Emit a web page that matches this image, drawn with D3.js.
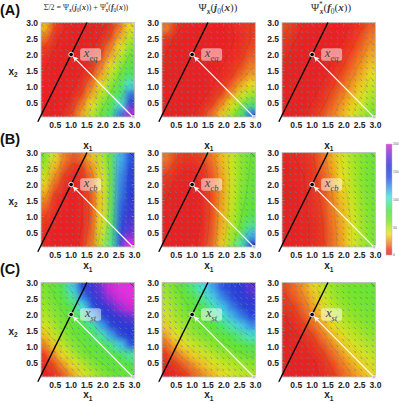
<!DOCTYPE html>
<html><head><meta charset="utf-8">
<script src="https://cdn.jsdelivr.net/npm/d3@7"></script>
<style>body{margin:0;background:#fff}svg{display:block}</style>
</head><body>
<svg id="c" width="399" height="404"></svg>
<script>
// ---------- data ----------
const cellCenters = [0.15,0.45,0.75,1.05,1.35,1.65,1.95,2.25,2.55,2.85];
const rowCenters = [2.85,2.55,2.25,1.95,1.65,1.35,1.05,0.75,0.45,0.15];
const tickValues = [0.5,1.0,1.5,2.0,2.5,3.0];
const tickLabels = ["0.5","1.0","1.5","2.0","2.5","3.0"];
const arrowGrid = [0.10,0.29,0.47,0.66,0.85,1.03,1.22,1.41,1.59,1.78,1.97,2.15,2.34,2.53,2.71,2.90];
const legendTicks = [0,50,100,150,200];
const contourLevels = [3,10,22,40,65,100,150];
const rowLetters = ["(A)","(B)","(C)"];
const pointSubs = ["eq","cb","st"];
const fixedPoint = [1.0,2.0];
const startPoint = [2.95,0.05];

// Row A: equilibrium
const A1 = [
 [32,11,4,1,0,1,2,6,19,38],
 [19,6,2,1,0,1,4,11,28,49],
 [11,4,1,0,1,2,6,19,38,58],
 [6,2,1,0,1,4,11,28,49,67],
 [4,1,0,1,2,6,19,38,58,75],
 [2,1,0,1,4,11,28,49,67,86],
 [1,0,1,2,6,19,38,58,75,102],
 [1,0,1,4,11,28,49,67,86,134],
 [0,1,2,6,19,38,58,75,102,165],
 [0,1,4,11,28,49,67,86,134,192]];
const A2 = [
 [22,6,2,0,0,0,1,3,6,10],
 [10,3,1,0,0,0,1,2,5,10],
 [5,1,0,0,0,0,1,3,6,12],
 [3,1,0,0,0,1,2,4,8,15],
 [2,0,0,0,0,1,3,6,12,20],
 [1,0,0,0,1,2,4,9,17,27],
 [0,0,0,1,1,3,7,15,28,38],
 [0,0,0,1,2,5,12,25,42,55],
 [0,0,1,1,4,10,22,40,62,85],
 [0,0,1,3,8,18,34,55,80,135]];
const A3 = [
 [13,6,2,1,0,0,1,4,9,16],
 [9,4,1,0,0,1,2,6,13,20],
 [6,2,1,0,0,1,4,9,16,25],
 [4,1,0,0,1,2,6,13,20,29],
 [2,1,0,0,1,4,9,16,25,34],
 [1,0,0,1,2,6,13,20,29,39],
 [1,0,0,1,4,9,16,25,34,45],
 [0,0,1,2,6,13,20,29,39,51],
 [0,0,1,4,9,16,25,34,45,56],
 [0,1,2,6,13,20,29,39,51,61]];
// Row B: current-balanced
const B1 = [
 [62,40,22,14,18,32,50,72,115,140],
 [55,32,16,8,10,24,45,70,120,150],
 [45,24,10,4,6,18,40,68,125,155],
 [35,16,6,2,4,16,38,68,128,158],
 [26,10,3,1,3,14,36,70,130,160],
 [18,6,2,0,3,13,36,72,135,162],
 [12,4,1,0,3,13,37,75,138,165],
 [8,2,0,0,3,14,40,80,142,170],
 [5,1,0,0,4,16,45,85,145,180],
 [3,1,0,0,5,19,50,90,150,205]];
const B2 = [
 [20,12,8,8,12,20,32,45,58,65],
 [15,8,4,4,8,17,30,45,58,66],
 [10,4,2,2,6,15,28,44,58,67],
 [6,2,1,1,5,14,27,44,59,68],
 [4,1,0,1,4,13,27,45,60,70],
 [2,0,0,1,4,13,28,46,62,72],
 [1,0,0,1,4,13,29,48,64,78],
 [0,0,0,1,4,14,30,50,68,90],
 [0,0,0,1,5,15,32,53,78,115],
 [0,0,0,2,6,17,35,58,95,160]];
const B3 = [
 [2,3,5,10,18,30,42,52,58,62],
 [1,2,4,9,17,28,40,51,58,62],
 [1,2,3,8,15,26,38,50,58,62],
 [0,1,3,7,14,24,36,48,57,62],
 [0,1,2,6,13,22,34,46,56,61],
 [0,1,2,5,12,21,32,44,55,61],
 [0,1,2,5,11,20,30,42,54,60],
 [0,1,2,4,10,19,29,41,53,60],
 [0,1,2,4,10,18,28,40,52,60],
 [0,1,2,4,9,18,28,40,52,60]];
// Row C: stationary
const C1 = [
 [60,68,82,110,150,165,180,200,210,212],
 [58,64,75,95,130,155,170,190,205,210],
 [55,60,68,82,105,140,160,170,190,200],
 [50,56,63,72,88,115,150,160,165,175],
 [42,52,60,66,76,92,120,150,158,160],
 [32,46,56,63,70,80,95,120,150,158],
 [20,34,48,58,64,70,78,88,110,140],
 [10,22,38,50,60,66,70,75,82,95],
 [4,12,25,38,50,58,64,68,72,78],
 [2,6,15,28,40,50,58,63,66,70]];
const C2 = [
 [55,62,75,90,105,120,140,150,160,175],
 [52,58,66,78,95,110,128,145,155,165],
 [48,55,62,70,82,98,112,130,148,155],
 [42,52,58,64,72,85,100,115,130,148],
 [35,46,55,60,66,74,86,98,110,125],
 [26,38,48,55,60,65,72,82,92,102],
 [16,28,38,46,52,57,62,68,75,82],
 [8,17,27,36,43,49,54,58,63,68],
 [3,8,16,25,33,40,46,50,54,58],
 [1,3,8,16,24,31,38,43,48,52]];
const C3 = [
 [12,18,26,36,48,56,60,62,63,64],
 [9,15,22,32,44,53,58,61,62,63],
 [6,11,18,28,39,49,55,59,61,62],
 [3,7,14,23,34,44,51,56,59,61],
 [2,4,9,17,27,37,46,52,56,59],
 [1,2,5,11,20,30,39,47,52,56],
 [0,1,3,7,14,23,32,40,47,52],
 [0,1,2,4,9,17,26,34,41,47],
 [0,0,1,2,6,12,20,28,35,42],
 [0,0,1,2,4,9,16,23,30,36]];
const panelData = [[A1,A2,A3],[B1,B2,B3],[C1,C2,C3]];

// ---------- colour ----------
const colStops  = [0,10,20,30,38,50,62,80,95,105,120,140,160,180,200,215];
const colColors = ["#e62222","#ea3a1e","#f07a22","#f0b022","#e8e024","#b4e428","#70e432","#50e244","#4ce6a0","#48e0e0","#3ca0ec","#2a50e0","#2a38d4","#7030d8","#d828d8","#e830e0"];
const color = d3.scaleLinear().domain(colStops).range(colColors).clamp(true);

// ---------- layout ----------
const svg = d3.select("#c");
const colLeft = [41,162,282], plotW = 93.5;
const rowTop = [22.5,152.5,282.5], plotH = 94.5;
const sans = "'Liberation Sans',Arial,sans-serif";
const serif = "'Liberation Serif','DejaVu Serif',serif";

const defs = svg.append("defs");
defs.append("filter").attr("id","blur").attr("x","-20%").attr("y","-20%").attr("width","140%").attr("height","140%")
  .append("feGaussianBlur").attr("stdDeviation",3.2);
const mk = defs.append("marker").attr("id","ah").attr("viewBox","0 0 10 10").attr("refX",9).attr("refY",5)
  .attr("markerWidth",5.5).attr("markerHeight",5.5).attr("orient","auto-start-reverse").attr("markerUnits","userSpaceOnUse");
mk.append("path").attr("d","M0,0L10,5L0,10L2.5,5z").attr("fill","#fff");

function mathText(g, x, y, segs, size, anchor, fill) {
  const t = g.append("text").attr("x",x).attr("y",y).attr("font-family",serif)
    .attr("font-size",size).attr("text-anchor",anchor||"middle").attr("fill",fill||"#333");
  let cur = 0;
  segs.forEach(s => {
    const sp = t.append("tspan").text(s.t);
    const target = s.sub ? size*0.3 : (s.sup ? -size*0.4 : 0);
    if (target - cur !== 0) sp.attr("dy", target - cur);
    cur = target;
    if (s.sub || s.sup) sp.attr("font-size", size*0.68);
    if (s.b) sp.attr("font-weight","bold");
    if (s.i) sp.attr("font-style","italic");
    if (s.dx) sp.attr("dx", s.dx);
  });
  return t;
}

rowTop.forEach((top, r) => {
  colLeft.forEach((left, c) => {
    const data = panelData[r][c];
    const xs = d3.scaleLinear().domain([0.05,3]).range([left, left+plotW]);
    const ys = d3.scaleLinear().domain([0.05,3]).range([top+plotH, top]);
    const g = svg.append("g");
    const cid = `clip${r}${c}`;
    defs.append("clipPath").attr("id",cid).append("rect")
      .attr("x",left).attr("y",top).attr("width",plotW).attr("height",plotH);
    const clipG = g.append("g").attr("clip-path",`url(#${cid})`);
    const hg = clipG.append("g").attr("filter","url(#blur)");
    const half = 0.15, ext = 10;
    data.forEach((row, j) => row.forEach((v, i) => {
      let x0 = xs(cellCenters[i]-half), x1 = xs(cellCenters[i]+half);
      let y0 = ys(rowCenters[j]+half), y1 = ys(rowCenters[j]-half);
      if (i===0) x0 -= ext; if (i===row.length-1) x1 += ext;
      if (j===0) y0 -= ext; if (j===data.length-1) y1 += ext;
      hg.append("rect").attr("x",x0).attr("y",y0).attr("width",x1-x0+0.6).attr("height",y1-y0+0.6)
        .attr("fill", color(v));
    }));
    // faint contour lines
    const flat = data.flat();
    const cont = d3.contours().size([10,10]).smooth(true).thresholds(contourLevels)(flat);
    const proj = d3.geoTransform({point: function(px, py) {
      this.stream.point(xs(px*0.3), ys(3 - py*0.3));
    }});
    clipG.append("g").selectAll("path").data(cont).join("path")
      .attr("d", d3.geoPath(proj)).attr("fill","none").attr("stroke","#000")
      .attr("stroke-opacity",0.16).attr("stroke-width",0.5);
    // quiver glyphs
    const qg = clipG.append("g").attr("stroke","#6c7ca8").attr("stroke-width",0.6).attr("fill","#6c7ca8").attr("opacity",0.85);
    arrowGrid.forEach(ax => arrowGrid.forEach(ay => {
      const px = xs(ax), py = ys(ay);
      qg.append("line").attr("x1",px-0.8).attr("y1",py-0.8).attr("x2",px+0.8).attr("y2",py+0.8);
      qg.append("circle").attr("cx",px+0.8).attr("cy",py+0.8).attr("r",0.55).attr("stroke","none");
    }));
    // frame
    g.append("rect").attr("x",left).attr("y",top).attr("width",plotW).attr("height",plotH)
      .attr("fill","none").attr("stroke","#c4c4c4").attr("stroke-width",0.8);
    const tg = g.append("g").attr("stroke","#b0b0b0").attr("stroke-width",0.5);
    d3.range(1,30).map(k => k/10).forEach(v => {
      const len = (Math.abs(v*2 - Math.round(v*2))<1e-6) ? 2.5 : 1.3;
      tg.append("line").attr("x1",xs(v)).attr("x2",xs(v)).attr("y1",top).attr("y2",top+len);
      tg.append("line").attr("x1",xs(v)).attr("x2",xs(v)).attr("y1",top+plotH).attr("y2",top+plotH-len);
      tg.append("line").attr("y1",ys(v)).attr("y2",ys(v)).attr("x1",left).attr("x2",left+len);
      tg.append("line").attr("y1",ys(v)).attr("y2",ys(v)).attr("x1",left+plotW).attr("x2",left+plotW-len);
    });
    // black nullcline x2 = 2 x1
    g.append("line").attr("x1",xs(-0.05)).attr("y1",ys(-0.1)).attr("x2",xs(1.5)).attr("y2",ys(3))
      .attr("stroke","#000").attr("stroke-width",1.4);
    // white arrow
    g.append("line").attr("x1",xs(startPoint[0])).attr("y1",ys(startPoint[1]))
      .attr("x2",xs(fixedPoint[0]+0.07)).attr("y2",ys(fixedPoint[1]-0.07))
      .attr("stroke","#fff").attr("stroke-width",1.1).attr("marker-end","url(#ah)");
    g.append("rect").attr("x",xs(startPoint[0])-1.6).attr("y",ys(startPoint[1])-1.6).attr("width",3.2).attr("height",3.2)
      .attr("fill","#c8c8c8").attr("stroke","#fff").attr("stroke-width",0.4);
    g.append("circle").attr("cx",xs(fixedPoint[0])).attr("cy",ys(fixedPoint[1])).attr("r",2.3)
      .attr("fill","#000").attr("stroke","#fff").attr("stroke-width",0.9);
    // label box
    const bx = xs(fixedPoint[0]) + 19.5, by = ys(fixedPoint[1]);
    g.append("rect").attr("x",bx-10.5).attr("y",by-6.3).attr("width",21).attr("height",12.6).attr("rx",2.5)
      .attr("fill","#fff").attr("fill-opacity",0.5);
    mathText(g, bx, by+2.8, [{t:"x",i:1},{t:pointSubs[r],i:1,sub:1}], 12.5, "middle", "#444");
    // tick labels
    const lg = g.append("g").attr("font-family",sans).attr("font-size",8.5).attr("font-weight","bold").attr("fill","#222");
    tickValues.forEach((v,k) => {
      lg.append("text").attr("x",xs(v)).attr("y",top+plotH+11).attr("text-anchor","middle").text(tickLabels[k]);
      lg.append("text").attr("x",left-3).attr("y",ys(v)+3).attr("text-anchor","end").text(tickLabels[k]);
    });
    // x1 label
    const x1y = [148.5,269,398][r];
    const xl = g.append("text").attr("x",left+plotW/2).attr("y",x1y).attr("text-anchor","middle")
      .attr("font-family",sans).attr("font-weight","bold").attr("font-size",10).attr("fill","#222");
    xl.append("tspan").text("x");
    xl.append("tspan").text("1").attr("font-size",6.5).attr("dy",2.5);
  });
  // x2 label
  const yl = svg.append("text").attr("x",13).attr("y",top+52).attr("text-anchor","middle")
    .attr("font-family",sans).attr("font-weight","bold").attr("font-size",10).attr("fill","#222");
  yl.append("tspan").text("x");
  yl.append("tspan").text("2").attr("font-size",6.5).attr("dy",2.5);
  // row letter
  svg.append("text").attr("x",0).attr("y",[14.5,144,274][r]).attr("font-family",sans).attr("font-weight","bold")
    .attr("font-size",14.5).attr("fill","#111").text(rowLetters[r]);
});

// titles
const psiJ = [{t:"Ψ"},{t:"x",sub:1,b:1,i:1},{t:"("},{t:"j",b:1,i:1},{t:"0",sub:1},{t:"("},{t:"x",b:1,i:1},{t:"))"}];
const psiF = [{t:"Ψ"},{t:"*",sup:1},{t:"x",sub:1,b:1,i:1,dx:-3},{t:"("},{t:"f",b:1,i:1},{t:"0",sub:1},{t:"("},{t:"x",b:1,i:1},{t:"))"}];
mathText(svg, 86, 9.5, [{t:"Σ\u0307"},{t:"/2 = "}].concat(psiJ).concat([{t:" + "}]).concat(psiF), 8, "middle", "#333");
mathText(svg, 218, 11, psiJ, 11, "middle", "#333");
mathText(svg, 331, 11, psiF, 11, "middle", "#333");

// colour bar
const cbX = 386, cbY0 = 144, cbY1 = 255, cbW = 6;
const cs = d3.scaleLinear().domain([0,200]).range([cbY1, cbY0]);
const grad = defs.append("linearGradient").attr("id","cbg").attr("x1",0).attr("y1",1).attr("x2",0).attr("y2",0);
colStops.filter(v => v<=200).forEach(v => grad.append("stop").attr("offset",v/200).attr("stop-color",color(v)));
svg.append("rect").attr("x",cbX).attr("y",cbY0).attr("width",cbW).attr("height",cbY1-cbY0).attr("fill","url(#cbg)");
svg.append("rect").attr("x",cbX).attr("y",cbY0).attr("width",cbW).attr("height",cbY1-cbY0)
  .attr("fill","#fff").attr("fill-opacity",0.18).attr("stroke","#bbb").attr("stroke-width",0.5);
legendTicks.forEach(v => {
  svg.append("text").attr("x",cbX+cbW+1).attr("y",cs(v)+1.3).attr("font-family",sans).attr("font-size",3.4)
    .attr("fill","#555").text(v);
});
</script>
</body></html>
